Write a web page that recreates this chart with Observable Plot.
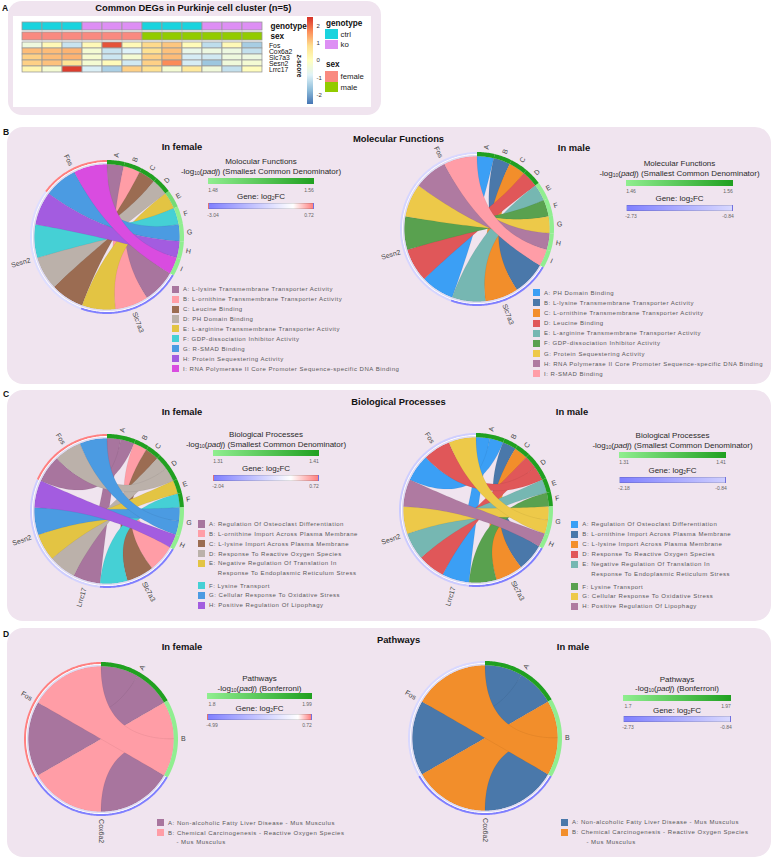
<!DOCTYPE html>
<html>
<head>
<meta charset="utf-8">
<script src="https://cdn.jsdelivr.net/npm/d3@7"></script>
<script src="https://cdn.jsdelivr.net/npm/@observablehq/plot@0.6"></script>
<style>
  html,body{margin:0;padding:0;background:#fff;}
  #root{position:relative;width:774px;height:859px;overflow:hidden;font-family:"Liberation Sans",Arial,Helvetica,sans-serif;color:#222;}
  #root div{position:absolute;white-space:nowrap;line-height:1;}
  sub{font-size:0.62em;vertical-align:-0.2em;line-height:0;}
</style>
</head>
<body>
<div id="root"></div>
<script>
// ================= DATA =================
// Panel A heatmap
const heatSamples = ["F-ctrl-1","F-ctrl-2","F-ctrl-3","F-ko-1","F-ko-2","F-ko-3","M-ctrl-1","M-ctrl-2","M-ctrl-3","M-ko-1","M-ko-2","M-ko-3"];
const genotype = ["ctrl","ctrl","ctrl","ko","ko","ko","ctrl","ctrl","ctrl","ko","ko","ko"];
const sex = ["female","female","female","female","female","female","male","male","male","male","male","male"];
const heatGenes = ["Fos","Cox6a2","Slc7a3","Sesn2","Lrrc17"];
const zFos    = [-0.45, 0.15, -1.1, 0.15, 2.2, 0.15, 0.9, 1.1, 0.1, -1.2, 0.15, -1.45];
const zCox6a2 = [1.2, 1.2, 1.3, -0.3, -1.1, -0.85, 0.8, 1.15, -0.6, -0.5, -0.5, -1.15];
const zSlc7a3 = [1.0, 1.2, 1.3, -0.25, -1.05, -0.3, 1.0, 1.2, -0.95, -1.0, -0.45, -0.5];
const zSesn2  = [1.0, 1.15, 0.75, -0.3, 0.1, -1.0, 1.0, 1.7, -0.95, -1.55, -0.4, -0.3];
const zLrrc17 = [0.25, -0.3, 2.4, -0.9, -1.4, 1.0, 0.8, -0.3, 0.6, -0.4, -1.15, 0.05];
const zDomain = [-2.52, 2.52];
const zTicks = [2, 1, 0, -1, -2];

// Panel B: Molecular Functions
const mfFemaleTerms = ["A","B","C","D","E","F","G","H","I"];
const mfFemaleNames = ["L-lysine Transmembrane Transporter Activity","L-ornithine Transmembrane Transporter Activity","Leucine Binding","PH Domain Binding","L-arginine Transmembrane Transporter Activity","GDP-dissociation Inhibitor Activity","R-SMAD Binding","Protein Sequestering Activity","RNA Polymerase II Core Promoter Sequence-specific DNA Binding"];
const mfFemalePadj = [1.56, 1.56, 1.56, 1.56, 1.50, 1.48, 1.48, 1.48, 1.48];
const mfFemaleLinks = [["A","Slc7a3"],["B","Slc7a3"],["C","Sesn2"],["D","Sesn2"],["E","Slc7a3"],["F","Sesn2"],["G","Fos"],["H","Sesn2"],["I","Fos"]];
const mfFemaleGenes = ["Slc7a3","Sesn2","Fos"];
const mfFemaleFC = [-3.04, -0.8, 0.72];
const mfFemalePadjDomain = [1.48, 1.56];
const mfFemaleFCDomain = [-3.04, 0.72];

const mfMaleTerms = ["A","B","C","D","E","F","G","H","I"];
const mfMaleNames = ["PH Domain Binding","L-lysine Transmembrane Transporter Activity","L-ornithine Transmembrane Transporter Activity","Leucine Binding","L-arginine Transmembrane Transporter Activity","GDP-dissociation Inhibitor Activity","Protein Sequestering Activity","RNA Polymerase II Core Promoter Sequence-specific DNA Binding","R-SMAD Binding"];
const mfMalePadj = [1.56, 1.56, 1.56, 1.56, 1.46, 1.46, 1.46, 1.46, 1.46];
const mfMaleLinks = [["A","Sesn2"],["B","Slc7a3"],["C","Slc7a3"],["D","Sesn2"],["E","Slc7a3"],["F","Sesn2"],["G","Sesn2"],["H","Fos"],["I","Fos"]];
const mfMaleGenes = ["Slc7a3","Sesn2","Fos"];
const mfMaleFC = [-2.73, -0.9, -0.84];
const mfMalePadjDomain = [1.46, 1.56];
const mfMaleFCDomain = [-2.73, -0.84];

// Panel C: Biological Processes
const bpTerms = ["A","B","C","D","E","F","G","H"];
const bpNames = ["Regulation Of Osteoclast Differentiation","L-ornithine Import Across Plasma Membrane","L-lysine Import Across Plasma Membrane","Response To Reactive Oxygen Species","Negative Regulation Of Translation In\nResponse To Endoplasmic Reticulum Stress","Lysine Transport","Cellular Response To Oxidative Stress","Positive Regulation Of Lipophagy"];
const bpPadj = [1.41, 1.41, 1.41, 1.41, 1.41, 1.41, 1.31, 1.31];
const bpLinks = [["A","Fos"],["A","Lrrc17"],["B","Slc7a3"],["C","Slc7a3"],["D","Fos"],["D","Sesn2"],["E","Sesn2"],["F","Slc7a3"],["G","Fos"],["G","Sesn2"],["H","Sesn2"]];
const bpGenes = ["Slc7a3","Lrrc17","Sesn2","Fos"];
const bpFemaleFC = [-2.04, -0.7, -0.8, 0.72];
const bpMaleFC = [-2.18, -0.9, -0.9, -0.84];
const bpPadjDomain = [1.31, 1.41];
const bpFemaleFCDomain = [-2.04, 0.72];
const bpMaleFCDomain = [-2.18, -0.84];

// Panel D: Pathways
const pwTerms = ["A","B"];
const pwNames = ["Non-alcoholic Fatty Liver Disease - Mus Musculus","Chemical Carcinogenesis - Reactive Oxygen Species\n- Mus Musculus"];
const pwLinks = [["A","Fos"],["A","Cox6a2"],["B","Fos"],["B","Cox6a2"]];
const pwGenes = ["Cox6a2","Fos"];
const pwFemalePadj = [1.99, 1.8];
const pwMalePadj = [1.97, 1.7];
const pwFemaleFC = [-4.99, 0.72];
const pwMaleFC = [-2.73, -0.84];
const pwFemalePadjDomain = [1.8, 1.99];
const pwMalePadjDomain = [1.7, 1.97];
const pwFemaleFCDomain = [-4.99, 0.72];
const pwMaleFCDomain = [-2.73, -0.84];

// ================= STYLES =================
const FONT = '"Liberation Sans", Arial, Helvetica, sans-serif';
const PANEL_BG = "#f0e4ef";
const HEAT_COLORS = ["#4575B4","#91BFDB","#E0F3F8","#FFFFBF","#FEE090","#FC8D59","#D73027"];
const ANNOT_COLORS = {ctrl: "#1ad3de", ko: "#dd8ff4", female: "#f98a80", male: "#92cb00"};
const FEMALE_PAL = ["#a8759e","#ff9da6","#9b6c52","#bbb1aa","#e3c443","#45d0d5","#4b9be2","#a35ce0","#d94ce0"];
const MALE_PAL = ["#3b9ff5","#4a78aa","#f28e2b","#e05759","#76b7b2","#59a14f","#edc949","#af7aa1","#ff9da7"];
const G_LIGHT = "#90ee90", G_DARK = "#20a020";
const BLUE = "#8080ff", RED = "#ff8080", GENE_INNER = "#dcdaf2";
const R_PX = 77, R_RIB = 0.945, R_LAB = 1.04;

// ================= HELPERS =================
const root = document.getElementById("root");
function box(style, html) {
  const e = document.createElement("div");
  for (const k in style) e.style[k] = typeof style[k] === "number" ? style[k] + "px" : style[k];
  if (html != null) e.innerHTML = html;
  root.appendChild(e);
  return e;
}
function center(x, y, html, st = {}) { return box(Object.assign({left: x, top: y, transform: "translate(-50%,-50%)"}, st), html); }
function leftMid(x, y, html, st = {}) { return box(Object.assign({left: x, top: y, transform: "translate(0,-50%)"}, st), html); }
function fcScaleOf(dom) {
  return dom[1] > 0
    ? d3.scaleLinear().domain([dom[0], 0, dom[1]]).range([BLUE, "#ffffff", RED])
    : d3.scaleLinear().domain([dom[0], 0]).range([BLUE, "#ffffff"]);
}
function arcPts(r, a0, a1) {
  const k = Math.max(2, Math.ceil(Math.abs(a1 - a0)));
  return d3.range(k + 1).map(i => { const t = (a0 + (a1 - a0) * i / k) * Math.PI / 180; return [r * Math.sin(t), r * Math.cos(t)]; });
}
function bez(p, q) { return d3.range(1, 40).map(i => { const t = i / 40, u = 1 - t; return [u * u * p[0] + t * t * q[0], u * u * p[1] + t * t * q[1]]; }); }
function annulus(r0, r1, a0, a1) { return [...arcPts(r1, a0, a1), ...arcPts(r0, a1, a0)]; }

// ================= PANELS =================
box({left: 8, top: 1, width: 373, height: 114, background: PANEL_BG, borderRadius: "14px"});
box({left: 7, top: 127, width: 764, height: 257, background: PANEL_BG, borderRadius: "16px"});
box({left: 7, top: 390, width: 764, height: 231, background: PANEL_BG, borderRadius: "16px"});
box({left: 7, top: 628, width: 764, height: 229, background: PANEL_BG, borderRadius: "16px"});
const tagSt = {fontSize: "8.5px", fontWeight: "bold", color: "#111"};
center(5, 7.5, "A", tagSt);
center(6, 131.5, "B", tagSt);
center(6, 394, "C", tagSt);
center(6, 633.5, "D", tagSt);

// ================= PANEL A: HEATMAP =================
center(193.3, 7.5, "Common DEGs in Purkinje cell cluster (n=5)", {fontSize: "9.4px", fontWeight: "bold", color: "#111"});
box({left: 13.3, top: 15.7, width: 357.4, height: 91.6, background: "#ffffff"});

const annotRows = [
  ...genotype.map((v, j) => ({row: "genotype", sample: heatSamples[j], v})),
  ...sex.map((v, j) => ({row: "sex", sample: heatSamples[j], v}))
];
const annotPlot = Plot.plot({
  width: 309, height: 19, marginLeft: 0, marginRight: 60, marginTop: 0, marginBottom: 0,
  x: {domain: heatSamples, padding: 0, axis: null},
  y: {domain: ["genotype", "sex"], paddingInner: 0.2, paddingOuter: 0, axis: null},
  color: {type: "identity"},
  style: {background: "transparent", overflow: "visible", fontFamily: FONT, color: "#111"},
  marks: [
    Plot.cell(annotRows, {x: "sample", y: "row", fill: d => ANNOT_COLORS[d.v], stroke: "#9a9a9a", strokeWidth: 0.8, inset: 0}),
    Plot.axisY({anchor: "right", label: null, tickSize: 0, tickPadding: 4, fontSize: 8.2, fontWeight: "bold"})
  ]
});
box({left: 17.3, top: 20.7, width: 309, height: 19}).appendChild(annotPlot);

const heatZ = [zFos, zCox6a2, zSlc7a3, zSesn2, zLrrc17];
const heatRows = heatGenes.flatMap((g, i) => heatZ[i].map((z, j) => ({gene: g, sample: heatSamples[j], z})));
const heatPlot = Plot.plot({
  width: 309, height: 32.7, marginLeft: 0, marginRight: 60, marginTop: 0, marginBottom: 0,
  x: {domain: heatSamples, padding: 0, axis: null},
  y: {domain: heatGenes, padding: 0, axis: null},
  color: {type: "linear", domain: zDomain, interpolate: d3.piecewise(d3.interpolateRgb, HEAT_COLORS)},
  style: {background: "transparent", overflow: "visible", fontFamily: FONT, color: "#111"},
  marks: [
    Plot.cell(heatRows, {x: "sample", y: "gene", fill: "z", stroke: "#9a9a9a", strokeWidth: 0.8, inset: 0}),
    Plot.axisY({anchor: "right", label: null, tickSize: 0, tickPadding: 2.5, fontSize: 6.8})
  ]
});
box({left: 17.3, top: 41.3, width: 309, height: 32.7}).appendChild(heatPlot);

// z-score colour bar
const zTop = 16.7, zBot = 104;
box({left: 307.3, top: zTop, width: 6, height: zBot - zTop, background: `linear-gradient(to top, ${HEAT_COLORS.join(",")})`});
zTicks.forEach(t => {
  const y = zTop + (zDomain[1] - t) / (zDomain[1] - zDomain[0]) * (zBot - zTop);
  leftMid(316.6, y, String(t), {fontSize: "6px", color: "#333"});
});
center(298.5, 66, "z-score", {fontSize: "6.6px", fontWeight: "bold", transform: "translate(-50%,-50%) rotate(90deg)", color: "#111"});

// annotation legend
const legHead = {fontSize: "8.2px", fontWeight: "bold", color: "#111"};
const legLab = {fontSize: "7.8px", color: "#222"};
leftMid(326, 24, "genotype", legHead);
box({left: 325, top: 29.3, width: 13.3, height: 10, background: ANNOT_COLORS.ctrl});
box({left: 325, top: 39.8, width: 13.3, height: 9.7, background: ANNOT_COLORS.ko});
leftMid(340.5, 34.8, "ctrl", legLab);
leftMid(340.5, 45, "ko", legLab);
leftMid(326, 65, "sex", legHead);
box({left: 325, top: 71, width: 13.3, height: 10.5, background: ANNOT_COLORS.female});
box({left: 325, top: 81.8, width: 13.3, height: 10.7, background: ANNOT_COLORS.male});
leftMid(340.5, 76.5, "female", legLab);
leftMid(340.5, 87.5, "male", legLab);

// ================= CHORD CHARTS =================
function chordChart(c) {
  const n = c.links.length, tU = 120 / n, gU = 240 / n;
  const gRank = new Map(c.genes.map((g, i) => [g, i]));
  const tRank = new Map(c.terms.map((t, i) => [t, i]));
  const padjColor = d3.scaleLinear().domain(c.padjDomain).range([G_LIGHT, G_DARK]).clamp(true);
  const fcColor = fcScaleOf(c.fcDomain);
  const tSlot = new Map(), gSlot = new Map(), tArcs = [], gArcs = [];
  let a = 0;
  c.terms.forEach((t, i) => {
    const s = a;
    c.links.filter(l => l[0] === t).sort((p, q) => gRank.get(p[1]) - gRank.get(q[1]))
      .forEach(l => { tSlot.set(l[0] + "|" + l[1], [a, a + tU]); a += tU; });
    tArcs.push({name: t, a0: s, a1: a, fill: padjColor(c.padj[i])});
  });
  a = 120;
  c.genes.forEach((g, i) => {
    const s = a;
    c.links.filter(l => l[1] === g).sort((p, q) => tRank.get(p[0]) - tRank.get(q[0]))
      .forEach(l => { gSlot.set(l[0] + "|" + l[1], [a, a + gU]); a += gU; });
    gArcs.push({name: g, a0: s, a1: a, fill: fcColor(c.fc[i])});
  });
  const termColor = new Map(c.terms.map((t, i) => [t, c.colors[i]]));
  const ordered = c.links.slice().sort((p, q) => tSlot.get(p.join("|"))[0] - tSlot.get(q.join("|"))[0]);
  const ribbons = [];
  ordered.forEach((l, id) => {
    const [s0, s1] = tSlot.get(l.join("|")), [t0, t1] = gSlot.get(l.join("|"));
    const A = arcPts(R_RIB, s0, s1), B = arcPts(R_RIB, t0, t1);
    [...A, ...bez(A[A.length - 1], B[0]), ...B, ...bez(B[B.length - 1], A[0])]
      .forEach(p => ribbons.push({id, x: p[0], y: p[1], fill: termColor.get(l[0])}));
  });
  const tracks = [];
  let tid = 0;
  const ring = (r0, r1, a0, a1, fill) => { annulus(r0, r1, a0, a1).forEach(p => tracks.push({id: tid, x: p[0], y: p[1], fill})); tid++; };
  tArcs.forEach(d => ring(R_RIB, 1, d.a0, d.a1, d.fill));
  gArcs.forEach(d => { ring(0.973, 1, d.a0, d.a1, d.fill); ring(0.962, 0.973, d.a0, d.a1, "#ffffff"); ring(R_RIB, 0.962, d.a0, d.a1, GENE_INNER); });
  const labels = [...tArcs, ...gArcs].map(d => {
    const m = (d.a0 + d.a1) / 2, t = m * Math.PI / 180;
    return {name: d.name, x: R_LAB * Math.sin(t), y: R_LAB * Math.cos(t), right: m <= 180, rotate: m <= 180 ? m - 90 : m - 270};
  });
  const L = 1.5, S = 2 * L * R_PX;
  const svg = Plot.plot({
    width: S, height: S, margin: 0,
    x: {domain: [-L, L], axis: null}, y: {domain: [-L, L], axis: null},
    color: {type: "identity"},
    style: {background: "transparent", overflow: "visible", fontFamily: FONT},
    marks: [
      Plot.line(ribbons, {x: "x", y: "y", z: "id", fill: "fill", stroke: "#000", strokeOpacity: 0.12, strokeWidth: 0.45, curve: "linear-closed"}),
      Plot.line(tracks, {x: "x", y: "y", z: "id", fill: "fill", stroke: "none", curve: "linear-closed"}),
      Plot.text(labels.filter(d => d.right), {x: "x", y: "y", text: "name", rotate: "rotate", textAnchor: "start", fontSize: 7, fill: "#444"}),
      Plot.text(labels.filter(d => !d.right), {x: "x", y: "y", text: "name", rotate: "rotate", textAnchor: "end", fontSize: 7, fill: "#444"})
    ]
  });
  box({left: c.cx - S / 2, top: c.cy - S / 2, width: S, height: S}).appendChild(svg);

  // colour bars
  const b = c.bars, cxm = (b.x0 + b.x1) / 2, w = b.x1 - b.x0;
  const titleSt = {fontSize: "8px", color: "#2a2a2a"};
  const tickSt = {fontSize: "5px", color: "#666"};
  center(cxm, b.yTitle, c.barTitle, titleSt);
  center(cxm, b.ySub, c.barSub, titleSt);
  box({left: b.x0, top: b.bar1[0], width: w, height: b.bar1[1] - b.bar1[0], background: `linear-gradient(to right, ${G_LIGHT}, ${G_DARK})`});
  center(b.x0 + 5, b.lab1, String(c.padjDomain[0]), tickSt);
  center(b.x1 - 5, b.lab1, String(c.padjDomain[1]), tickSt);
  center(cxm, b.yGene, "Gene: log<sub>2</sub>FC", titleSt);
  const [lo, hi] = c.fcDomain;
  const grad = hi > 0
    ? `linear-gradient(to right, ${fcColor(lo)} 0%, #ffffff ${(-lo / (hi - lo) * 100).toFixed(1)}%, ${fcColor(hi)} 100%)`
    : `linear-gradient(to right, ${fcColor(lo)}, ${fcColor(hi)})`;
  box({left: b.x0, top: b.bar2[0], width: w, height: b.bar2[1] - b.bar2[0], background: grad, boxSizing: "border-box", border: "0.5px solid rgba(0,0,0,0.12)"});
  center(b.x0 + 5, b.lab2, String(lo), tickSt);
  center(b.x1 - 5, b.lab2, String(hi), tickSt);

  // term legend
  const g = c.legend;
  let y = g.y0;
  const txtSt = {fontSize: "6px", letterSpacing: "0.52px", color: "#585858"};
  c.terms.forEach((t, i) => {
    const lines = c.names[i].split("\n");
    box({left: g.x, top: y - 3.6, width: 7.3, height: 7.2, background: c.colors[i]});
    lines.forEach((ln, k) => {
      if (k === 0) leftMid(g.x + 11.3, y, t + ": " + ln, txtSt);
      else { y += g.step; leftMid(g.x + 11.3 + g.indent, y, ln, txtSt); }
    });
    y += g.step + (lines.length > 1 ? 2.5 : 0);
  });
}

const SUB_SCD = "-log<sub>10</sub>(<i>padj</i>) (Smallest Common Denominator)";
const SUB_BON = "-log<sub>10</sub>(<i>padj</i>) (Bonferroni)";

// Titles
const panelTitle = {fontSize: "9.4px", fontWeight: "bold", color: "#111"};
const subTitle = {fontSize: "9.4px", fontWeight: "bold", color: "#111"};
center(398.5, 138.5, "Molecular Functions", panelTitle);
center(398.5, 402, "Biological Processes", panelTitle);
center(398.5, 639.5, "Pathways", panelTitle);
center(182, 147.3, "In female", subTitle);
center(574, 148, "In male", subTitle);
center(182, 412, "In female", subTitle);
center(572, 412, "In male", subTitle);
center(182, 647, "In female", subTitle);
center(573, 647, "In male", subTitle);

chordChart({
  terms: mfFemaleTerms, names: mfFemaleNames, colors: FEMALE_PAL, padj: mfFemalePadj, links: mfFemaleLinks,
  genes: mfFemaleGenes, fc: mfFemaleFC, padjDomain: mfFemalePadjDomain, fcDomain: mfFemaleFCDomain,
  cx: 106, cy: 236, barTitle: "Molocular Functions", barSub: SUB_SCD,
  bars: {x0: 208, x1: 314, yTitle: 161.5, ySub: 171.5, bar1: [178, 184], lab1: 189.5, yGene: 197, bar2: [203, 209], lab2: 214.5},
  legend: {x: 171.7, y0: 289.3, step: 9.9, indent: 8.8}
});
chordChart({
  terms: mfMaleTerms, names: mfMaleNames, colors: MALE_PAL, padj: mfMalePadj, links: mfMaleLinks,
  genes: mfMaleGenes, fc: mfMaleFC, padjDomain: mfMalePadjDomain, fcDomain: mfMaleFCDomain,
  cx: 476, cy: 228.5, barTitle: "Molecular Functions", barSub: SUB_SCD,
  bars: {x0: 626, x1: 733, yTitle: 164, ySub: 174, bar1: [180, 186], lab1: 191, yGene: 199, bar2: [204.5, 210.5], lab2: 215.5},
  legend: {x: 532.7, y0: 292.7, step: 10.15, indent: 8.8}
});
chordChart({
  terms: bpTerms, names: bpNames, colors: FEMALE_PAL.slice(0, 8), padj: bpPadj, links: bpLinks,
  genes: bpGenes, fc: bpFemaleFC, padjDomain: bpPadjDomain, fcDomain: bpFemaleFCDomain,
  cx: 106.5, cy: 510.3, barTitle: "Biological Processes", barSub: SUB_SCD,
  bars: {x0: 213, x1: 319, yTitle: 435, ySub: 444.5, bar1: [450, 456], lab1: 460.5, yGene: 468.5, bar2: [475, 481], lab2: 486},
  legend: {x: 197.7, y0: 524, step: 9.85, indent: 8.8}
});
chordChart({
  terms: bpTerms, names: bpNames, colors: MALE_PAL.slice(0, 8), padj: bpPadj, links: bpLinks,
  genes: bpGenes, fc: bpMaleFC, padjDomain: bpPadjDomain, fcDomain: bpMaleFCDomain,
  cx: 475, cy: 509.5, barTitle: "Biological Processes", barSub: SUB_SCD,
  bars: {x0: 619, x1: 726, yTitle: 436, ySub: 446, bar1: [452, 457.5], lab1: 462, yGene: 471, bar2: [477, 482.5], lab2: 487.5},
  legend: {x: 571, y0: 524.3, step: 9.95, indent: 9}
});
chordChart({
  terms: pwTerms, names: pwNames, colors: [FEMALE_PAL[0], FEMALE_PAL[1]], padj: pwFemalePadj, links: pwLinks,
  genes: pwGenes, fc: pwFemaleFC, padjDomain: pwFemalePadjDomain, fcDomain: pwFemaleFCDomain,
  cx: 100, cy: 738.7, barTitle: "Pathways", barSub: SUB_BON,
  bars: {x0: 207, x1: 312, yTitle: 679, ySub: 688.5, bar1: [693, 699], lab1: 703.5, yGene: 709, bar2: [714, 720], lab2: 725},
  legend: {x: 156.7, y0: 822.7, step: 9.8, indent: 8.4}
});
chordChart({
  terms: pwTerms, names: pwNames, colors: [MALE_PAL[1], MALE_PAL[2]], padj: pwMalePadj, links: pwLinks,
  genes: pwGenes, fc: pwMaleFC, padjDomain: pwMalePadjDomain, fcDomain: pwMaleFCDomain,
  cx: 484, cy: 737, barTitle: "Pathways", barSub: SUB_BON,
  bars: {x0: 623, x1: 731, yTitle: 679.5, ySub: 689, bar1: [695, 701], lab1: 706, yGene: 711, bar2: [716, 722], lab2: 727},
  legend: {x: 560.7, y0: 822.3, step: 10, indent: 14.4}
});
</script>
</body>
</html>
